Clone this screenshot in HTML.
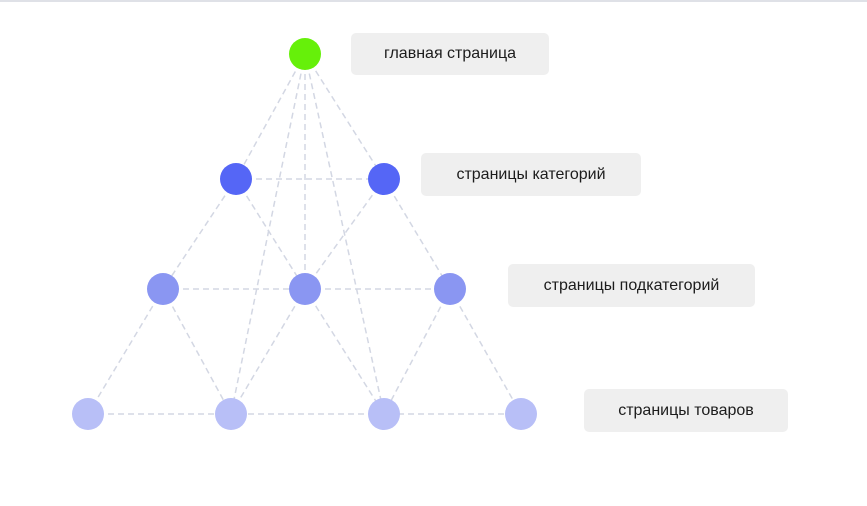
<!DOCTYPE html>
<html><head><meta charset="utf-8"><style>
html,body{margin:0;padding:0;background:#fff;}
body{width:867px;height:506px;position:relative;overflow:hidden;font-family:"Liberation Sans","DejaVu Sans",sans-serif;}
.top{position:absolute;left:0;top:0;width:867px;height:2px;background:#dfe1e7;}
.lb{position:absolute;background:#efefef;border-radius:5px;display:flex;align-items:center;justify-content:center;font-size:16px;color:#1c1c1c;}
svg{position:absolute;left:0;top:0;}
</style></head><body>
<div class="top"></div>
<svg width="867" height="506">
<g stroke="#d3d7e3" stroke-width="1.5" stroke-dasharray="6,4" fill="none">
<line x1="305" y1="54" x2="236" y2="179"/>
<line x1="305" y1="54" x2="384" y2="179"/>
<line x1="305" y1="54" x2="231" y2="414"/>
<line x1="305" y1="54" x2="305" y2="289"/>
<line x1="305" y1="54" x2="384" y2="414"/>
<line x1="236" y1="179" x2="384" y2="179"/>
<line x1="236" y1="179" x2="163" y2="289"/>
<line x1="236" y1="179" x2="305" y2="289"/>
<line x1="384" y1="179" x2="305" y2="289"/>
<line x1="384" y1="179" x2="450" y2="289"/>
<line x1="163" y1="289" x2="305" y2="289"/>
<line x1="305" y1="289" x2="450" y2="289"/>
<line x1="163" y1="289" x2="88" y2="414"/>
<line x1="163" y1="289" x2="231" y2="414"/>
<line x1="305" y1="289" x2="231" y2="414"/>
<line x1="305" y1="289" x2="384" y2="414"/>
<line x1="450" y1="289" x2="384" y2="414"/>
<line x1="450" y1="289" x2="521" y2="414"/>
<line x1="88" y1="414" x2="521" y2="414"/>
</g>
<circle cx="305" cy="54" r="16" fill="#66f00a"/>
<circle cx="236" cy="179" r="16" fill="#5566f6"/>
<circle cx="384" cy="179" r="16" fill="#5566f6"/>
<circle cx="163" cy="289" r="16" fill="#8a96f2"/>
<circle cx="305" cy="289" r="16" fill="#8a96f2"/>
<circle cx="450" cy="289" r="16" fill="#8a96f2"/>
<circle cx="88" cy="414" r="16" fill="#b8bff7"/>
<circle cx="231" cy="414" r="16" fill="#b8bff7"/>
<circle cx="384" cy="414" r="16" fill="#b8bff7"/>
<circle cx="521" cy="414" r="16" fill="#b8bff7"/>
</svg>
<div class="lb" style="left:351px;top:33px;width:198px;height:42px;">главная страница</div>
<div class="lb" style="left:421px;top:153px;width:220px;height:43px;">страницы категорий</div>
<div class="lb" style="left:508px;top:264px;width:247px;height:43px;">страницы подкатегорий</div>
<div class="lb" style="left:584px;top:389px;width:204px;height:43px;">страницы товаров</div>
</body></html>
